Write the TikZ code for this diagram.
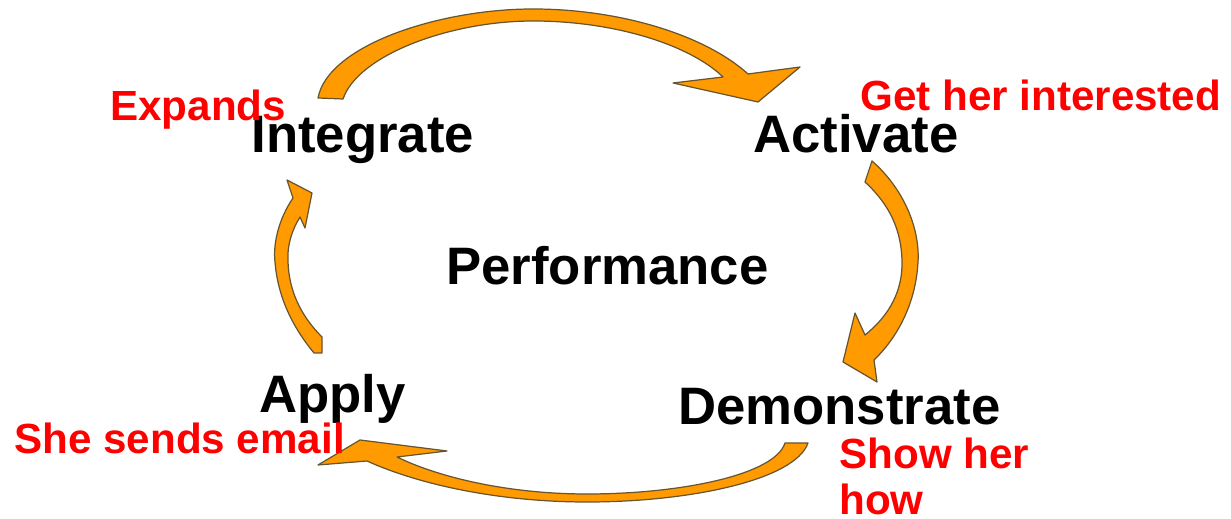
\documentclass[tikz,border=0pt]{standalone}
\usepackage{fontspec}
\setmainfont{Liberation Sans}
\definecolor{arrowfill}{RGB}{255,155,0}
\definecolor{arrowline}{RGB}{105,85,45}

\begin{document}
\begin{tikzpicture}[x=0.02cm, y=-0.02cm]
		\tikzstyle{stage}=[inner sep=0, anchor=base west, font=\fontsize{30}{36}\selectfont\bfseries]
		\tikzstyle{note}=[stage, text=red, font=\fontsize{24}{26.7}\selectfont\bfseries]
		\tikzstyle{cyclearrow}=[fill=arrowfill, draw=arrowline, line width=0.7pt, line join=round]

		\useasboundingbox (0,0) rectangle (1231,519);

		% integrate -> activate
		\draw[cyclearrow] (318,98) .. controls (328,45) and (440,9) .. (533,9)
			.. controls (620,9) and (705,35) .. (748,74) -- (800,67) -- (758,102) -- (673,83) -- (723,77)
			.. controls (690,45) and (615,21) .. (533,21)
			.. controls (450,21) and (358,55) .. (343,99) -- cycle;

		% activate -> demonstrate
		\draw[cyclearrow] (872,161) .. controls (905,190) and (920,230) .. (918,262)
			.. controls (916,300) and (900,335) .. (874,360) -- (877,382) -- (843,362) -- (855,313) -- (865,335)
			.. controls (890,315) and (903,290) .. (902,260)
			.. controls (901,230) and (890,205) .. (865,182) -- cycle;

		% demonstrate -> apply
		\draw[cyclearrow] (808,443) .. controls (795,480) and (690,502) .. (587,502)
			.. controls (500,502) and (420,485) .. (367,461) -- (318,465) -- (360,440) -- (447,451) -- (397,457)
			.. controls (440,478) and (510,494) .. (587,494)
			.. controls (680,494) and (775,475) .. (785,443) -- cycle;

		% apply -> integrate
		\draw[cyclearrow] (314,353) .. controls (295,330) and (278,300) .. (275,262)
			.. controls (273,245) and (278,220) .. (293,198) -- (287,180) -- (312,193) -- (305,228) -- (300,217)
			.. controls (292,230) and (287,245) .. (288,262)
			.. controls (289,290) and (300,315) .. (322,337) -- (322,353) -- cycle;

		\node[stage] (integrate) at (251,153) {Integrate};
		\node[stage] (activate) at (753,153) {Activate};
		\node[stage] (performance) at (446,285) {Performance};
		\node[stage] (apply) at (259,413) {Apply};
		\node[stage] (demonstrate) at (678,425) {Demonstrate};

		\node[note] (expands) at (110,121) {Expands};
		\node[note] (interested) at (860,111) {Get her interested};
		\node[note] (email) at (14,454) {She sends email};
		\node[note, align=left] (showhow) at (839,515) {Show her\\how};

	\end{tikzpicture}
\end{document}
